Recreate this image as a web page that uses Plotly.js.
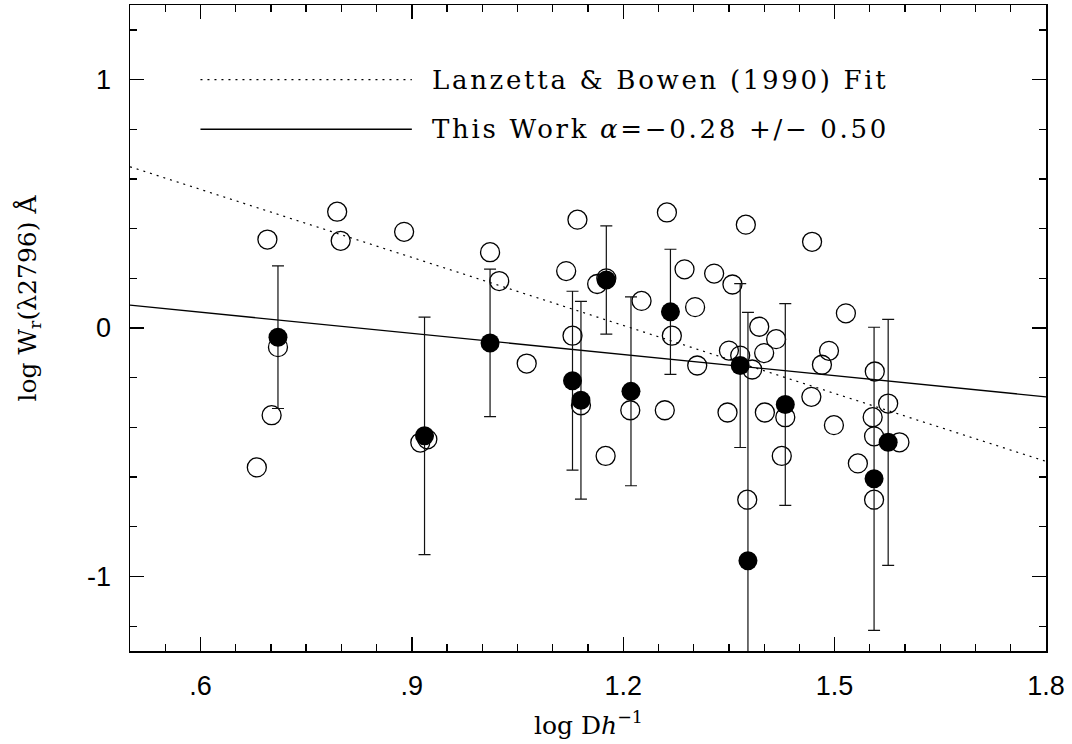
<!DOCTYPE html>
<html>
<head>
<meta charset="utf-8">
<script src="https://cdn.plot.ly/plotly-3.0.1.min.js"></script>
<style>html,body{margin:0;padding:0;background:#fff;}#chart{width:1072px;height:744px;}</style>
</head>
<body>
<div id="chart"></div>
<script>
// Open circles (no error bars)
const openX = [0.680,0.695,0.701,0.710,0.794,0.799,0.889,0.912,0.922,1.011,1.024,1.063,1.119,1.128,1.135,1.140,1.163,1.176,1.175,1.210,1.226,1.259,1.262,1.269,1.287,1.302,1.305,1.329,1.348,1.350,1.355,1.366,1.374,1.376,1.383,1.393,1.400,1.401,1.417,1.425,1.430,1.467,1.468,1.482,1.492,1.499,1.516,1.533,1.554,1.556,1.556,1.557,1.576,1.592];
const openY = [-0.561,0.356,-0.351,-0.077,0.468,0.351,0.387,-0.461,-0.448,0.305,0.189,-0.143,0.229,-0.031,0.436,-0.311,0.177,0.200,-0.515,-0.331,0.109,-0.331,0.465,-0.031,0.236,0.084,-0.151,0.219,-0.340,-0.091,0.175,-0.111,0.416,-0.691,-0.167,0.005,-0.101,-0.340,-0.045,-0.515,-0.359,-0.277,0.347,-0.148,-0.092,-0.391,0.059,-0.545,-0.359,-0.436,-0.691,-0.175,-0.304,-0.460];

// Filled circles with error bars
const filledX = [0.710,0.918,1.011,1.128,1.140,1.176,1.211,1.267,1.366,1.377,1.430,1.556,1.576];
const filledY = [-0.037,-0.434,-0.060,-0.212,-0.291,0.193,-0.255,0.065,-0.151,-0.937,-0.308,-0.607,-0.460];
const filledErr = [0.287,0.478,0.297,0.360,0.398,0.218,0.380,0.252,0.330,1.000,0.406,0.610,0.495];

// Fit lines (endpoints at the axis limits)
const fitX = [0.5, 1.8];
const lbFitY = [0.649, -0.537];   // Lanzetta & Bowen (1990)
const thisFitY = [0.092, -0.277]; // This Work

// Axis ticks
const xTickVals = [0.6, 0.9, 1.2, 1.5, 1.8];
const xTickText = ['.6', '.9', '1.2', '1.5', '1.8'];
const yTickVals = [-1, 0, 1];
const yTickText = ['-1', '0', '1'];

// Legend
const legendLabels = ['Lanzetta &amp; Bowen (1990) Fit', 'This Work <i>α</i>=−0.28 +/− 0.50'];
const legendLineX = [0.6, 0.9];
const legendRowY = [1.0, 0.8];
const legendTextX = 0.926;

const serif = 'DejaVu Serif, Liberation Serif, serif';
const sans = 'Liberation Sans, Arial, sans-serif';

const traces = [
  {x: fitX, y: lbFitY, mode: 'lines', line: {color: '#000', width: 1.2, dash: '2px,5px'}, hoverinfo: 'skip'},
  {x: fitX, y: thisFitY, mode: 'lines', line: {color: '#000', width: 1.3}, hoverinfo: 'skip'},
  {x: openX, y: openY, mode: 'markers', marker: {symbol: 'circle-open', size: 19, color: '#000', line: {width: 1.3, color: '#000'}}},
  {x: filledX, y: filledY, mode: 'markers', marker: {symbol: 'circle', size: 19, color: '#000'},
   error_y: {type: 'data', array: filledErr, visible: true, color: '#111', thickness: 1.2, width: 6}}
];

const shapes = [
  {type: 'line', xref: 'x', yref: 'y', x0: legendLineX[0], x1: legendLineX[1], y0: legendRowY[0], y1: legendRowY[0], line: {color: '#000', width: 1.2, dash: '2px,5px'}},
  {type: 'line', xref: 'x', yref: 'y', x0: legendLineX[0], x1: legendLineX[1], y0: legendRowY[1], y1: legendRowY[1], line: {color: '#000', width: 1.3}}
];

const annotations = [
  {x: legendTextX, y: legendRowY[0], xref: 'x', yref: 'y', text: legendLabels[0], showarrow: false, xanchor: 'left', yanchor: 'middle', font: {family: serif, size: 26, color: '#000'}},
  {x: legendTextX, y: legendRowY[1], xref: 'x', yref: 'y', text: legendLabels[1], showarrow: false, xanchor: 'left', yanchor: 'middle', font: {family: serif, size: 26, color: '#000'}},
  {x: 0.5, y: -0.113, xref: 'paper', yref: 'paper', text: 'log D<i>h</i><sup>−1</sup>', showarrow: false, xanchor: 'center', yanchor: 'middle', font: {family: serif, size: 25, color: '#000'}},
  {x: -0.111, y: 0.546, xref: 'paper', yref: 'paper', text: 'log W<sub>r</sub>(λ2796) Å', textangle: -90, showarrow: false, xanchor: 'center', yanchor: 'middle', font: {family: serif, size: 25, color: '#000'}}
];

const axisCommon = {
  showgrid: false, zeroline: false, showline: true, linecolor: '#000', linewidth: 1.5,
  mirror: 'ticks', ticks: 'inside', ticklen: 14, tickwidth: 1.3, tickcolor: '#000',
  tickfont: {family: sans, size: 27, color: '#000'}
};

const layout = {
  width: 1072, height: 744,
  margin: {l: 130, r: 26, t: 5, b: 93},
  paper_bgcolor: '#fff', plot_bgcolor: '#fff',
  showlegend: false,
  xaxis: Object.assign({}, axisCommon, {
    range: [0.5, 1.8], tickmode: 'array', tickvals: xTickVals, ticktext: xTickText,
    ticklabelstandoff: 10,
    minor: {dtick: 0.05, tick0: 0.5, ticks: 'inside', ticklen: 7, tickwidth: 1.3, tickcolor: '#000'}
  }),
  yaxis: Object.assign({}, axisCommon, {
    range: [-1.3, 1.3], tickmode: 'array', tickvals: yTickVals, ticktext: yTickText,
    ticklabelstandoff: 12,
    minor: {dtick: 0.2, tick0: 0, ticks: 'inside', ticklen: 7, tickwidth: 1.3, tickcolor: '#000'}
  }),
  shapes: shapes,
  annotations: annotations
};

Plotly.newPlot('chart', traces, layout, {displayModeBar: false, staticPlot: true}).then(function (gd) {
  // widen the legend lettering (the original uses a wide, evenly spaced serif face), keeping the left edge fixed
  const texts = gd.querySelectorAll('.annotation-text');
  [0, 1].forEach(function (i) {
    const t = texts[i];
    if (!t) return;
    const b0 = t.getBBox();
    t.style.letterSpacing = '2.7px';
    const b1 = t.getBBox();
    const dx = b0.x - b1.x;
    const tr = t.getAttribute('transform') || '';
    t.setAttribute('transform', tr + ' translate(' + dx + ',0)');
  });
});
</script>
</body>
</html>
